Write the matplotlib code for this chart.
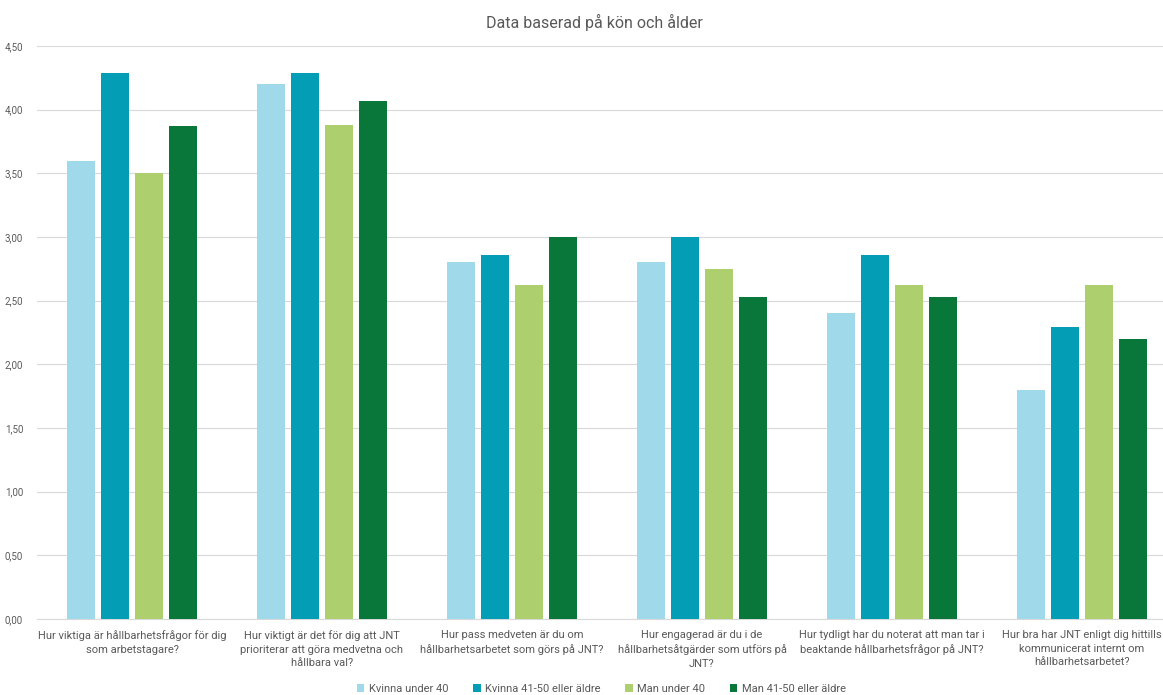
import matplotlib.pyplot as plt
import numpy as np
from matplotlib.ticker import FuncFormatter

plt.rcParams['font.family'] = ['Roboto', 'DejaVu Sans']

# Questions (x categories)
questions = [
    'Hur viktiga är hållbarhetsfrågor för dig\nsom arbetstagare?',
    'Hur viktigt är det för dig att JNT\nprioriterar att göra medvetna och\nhållbara val?',
    'Hur pass medveten är du om\nhållbarhetsarbetet som görs på JNT?',
    'Hur engagerad är du i de\nhållbarhetsåtgärder som utförs på\nJNT?',
    'Hur tydligt har du noterat att man tar i\nbeaktande hållbarhetsfrågor på JNT?',
    'Hur bra har JNT enligt dig hittills\nkommunicerat internt om\nhållbarhetsarbetet?',
]

series_names = ['Kvinna under 40', 'Kvinna 41-50 eller äldre',
                'Man under 40', 'Man 41-50 eller äldre']
kvinna_under_40 = [3.60, 4.20, 2.80, 2.80, 2.40, 1.80]
kvinna_41_50 = [4.29, 4.29, 2.86, 3.00, 2.86, 2.29]
man_under_40 = [3.50, 3.88, 2.62, 2.75, 2.62, 2.62]
man_41_50 = [3.87, 4.07, 3.00, 2.53, 2.53, 2.20]

colors = ['#9FD9EA', '#039EB6', '#AECF6D', '#0A773A']
text_color = '#595959'

fig = plt.figure(figsize=(11.63, 6.95), dpi=100)
ax = fig.add_axes([37 / 1163, 76 / 695, 1140 / 1163, 573 / 695])

x = np.arange(len(questions))
step = 0.179
width = 0.147
all_series = [kvinna_under_40, kvinna_41_50, man_under_40, man_41_50]
for i, (vals, name, c) in enumerate(zip(all_series, series_names, colors)):
    ax.bar(x + (i - 1.5) * step, vals, width, color=c, label=name, zorder=3)

ax.set_xlim(-0.5, len(questions) - 0.5)
ax.set_ylim(0, 4.5)
ax.set_yticks(np.arange(0, 4.51, 0.5))
ax.yaxis.set_major_formatter(FuncFormatter(lambda v, p: f'{v:.2f}'.replace('.', ',')))
ax.grid(axis='y', color='#D9D9D9', linewidth=0.8, zorder=0)
ax.set_xticks(x)
ax.set_xticklabels(questions, fontsize=8, color=text_color, linespacing=1.45)
ax.tick_params(axis='y', labelsize=7, colors=text_color, length=0, pad=10)
ax.tick_params(axis='x', length=0, pad=8)
for s in ['top', 'right', 'left']:
    ax.spines[s].set_visible(False)
ax.spines['bottom'].set_color('#D9D9D9')

fig.text(0.511, 1 - 22 / 695, 'Data baserad på kön och ålder', ha='center',
         va='center', fontsize=11.5, color=text_color)

fig.legend(loc='center', bbox_to_anchor=(0.517, 1 - 689 / 695), ncol=4,
           frameon=False, fontsize=8, labelcolor=text_color,
           handlelength=0.7, handleheight=0.7, handletextpad=0.4,
           columnspacing=2.2)

fig.savefig('out.png', dpi=100)
